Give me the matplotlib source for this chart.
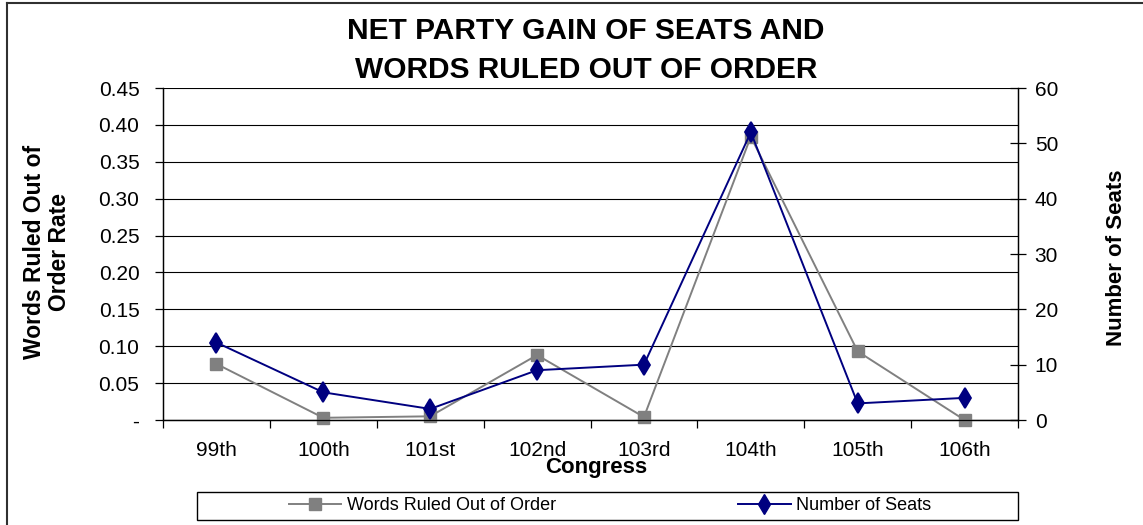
import matplotlib
matplotlib.use("Agg")
import matplotlib.pyplot as plt
from matplotlib.lines import Line2D
from matplotlib.patches import Rectangle
from matplotlib.ticker import FixedLocator, FixedFormatter

plt.rcParams['font.family'] = ['Liberation Sans', 'DejaVu Sans']

# -----------------------------------------------------------------------------
# data
# -----------------------------------------------------------------------------
congress = ['99th', '100th', '101st', '102nd', '103rd', '104th', '105th', '106th']
words_rate = [0.076, 0.003, 0.005, 0.088, 0.004, 0.384, 0.093, 0.0]
seats = [14, 5, 2, 9, 10, 52, 3, 4]

left_ticks = [0.0, 0.05, 0.10, 0.15, 0.20, 0.25, 0.30, 0.35, 0.40, 0.45]
left_labels = ['-'] + [f"{v:.2f}" for v in left_ticks[1:]]
right_ticks = [0, 10, 20, 30, 40, 50, 60]

GRAY = '#808080'
NAVY = '#000080'

W, H = 1143, 525
fig = plt.figure(figsize=(W / 100, H / 100), dpi=100)

# axes box in pixels: x 163..1018, y 88..420 (from top)
ax = fig.add_axes([163 / W, 1 - 420 / H, (1018 - 163) / W, (420 - 88) / H])
ax2 = ax.twinx()

x = list(range(len(congress)))

ax.plot(x, words_rate, color=GRAY, lw=1.4, marker='s', ms=8,
        mfc=GRAY, mec=GRAY, clip_on=False, zorder=3)
ax2.plot(x, seats, color=NAVY, lw=1.4, marker='d', ms=10.5, mew=1.3,
         mfc=NAVY, mec=NAVY, clip_on=False, zorder=3)

# left axis
ax.set_ylim(0, 0.45)
ax.set_yticks(left_ticks)
ax.set_yticklabels(left_labels, fontsize=15)
ax.tick_params(axis='y', direction='out', length=6, width=0.9, pad=11)
ax.yaxis.grid(True, color='black', lw=0.8)
ax.set_axisbelow(True)

# category axis: tick marks between categories, labels at centres
ax.set_xlim(-0.5, len(congress) - 0.5)
ax.xaxis.set_major_locator(FixedLocator([i - 0.5 for i in range(len(congress) + 1)]))
ax.xaxis.set_major_formatter(FixedFormatter([''] * (len(congress) + 1)))
ax.xaxis.set_minor_locator(FixedLocator(x))
ax.xaxis.set_minor_formatter(FixedFormatter(congress))
ax.tick_params(axis='x', which='major', direction='out', length=6, width=0.9)
ax.tick_params(axis='x', which='minor', length=0, labelsize=15, pad=15)

# right axis
ax2.set_ylim(0, 60)
ax2.set_yticks(right_ticks)
ax2.set_yticklabels([str(v) for v in right_ticks], fontsize=15)
ax2.tick_params(axis='y', direction='inout', length=12, width=0.9, pad=6)

for a in (ax, ax2):
    for s in a.spines.values():
        s.set_linewidth(0.9)
        s.set_color('black')
ax.spines['top'].set_visible(False)
ax2.spines['top'].set_visible(False)

# titles and axis labels
fig.text(586 / W, 1 - 31 / H, 'NET PARTY GAIN OF SEATS AND', ha='center', va='center',
         fontsize=21.5, fontweight='bold')
fig.text(586 / W, 1 - 70 / H, 'WORDS RULED OUT OF ORDER', ha='center', va='center',
         fontsize=21.5, fontweight='bold')
fig.text(596 / W, 1 - 468 / H, 'Congress', ha='center', va='center',
         fontsize=16, fontweight='bold')
fig.text(47 / W, 1 - 252 / H, 'Words Ruled Out of\nOrder Rate', ha='center', va='center',
         rotation=90, fontsize=16.5, fontweight='bold', linespacing=1.1)
fig.text(1117 / W, 1 - 258 / H, 'Number of Seats', ha='center', va='center',
         rotation=90, fontsize=16, fontweight='bold')

# legend in a box under the plot
fig.patches.append(Rectangle((197 / W, 1 - 520 / H), (1018 - 197) / W, 28 / H,
                             transform=fig.transFigure, fill=False,
                             edgecolor='black', lw=1.0))
handles = [
    Line2D([], [], color=GRAY, lw=1.4, marker='s', ms=8, mfc=GRAY, mec=GRAY),
    Line2D([], [], color=NAVY, lw=1.4, marker='d', ms=10, mfc=NAVY, mec=NAVY),
]
fig.legend(handles, ['Words Ruled Out of Order', 'Number of Seats'],
           loc='center', bbox_to_anchor=(610 / W, 1 - 506 / H), ncol=2,
           frameon=False, fontsize=13, handlelength=2.9, handletextpad=0.3,
           columnspacing=10.1, borderpad=0)

# outer border (left and top edges)
fig.add_artist(Line2D([7 / W, 7 / W], [0, 1 - 3 / H], transform=fig.transFigure,
                      color='#303030', lw=1.5))
fig.add_artist(Line2D([7 / W, 1], [1 - 3 / H, 1 - 3 / H], transform=fig.transFigure,
                      color='#303030', lw=1.5))

fig.savefig('out.png', dpi=100)
plt.close(fig)
